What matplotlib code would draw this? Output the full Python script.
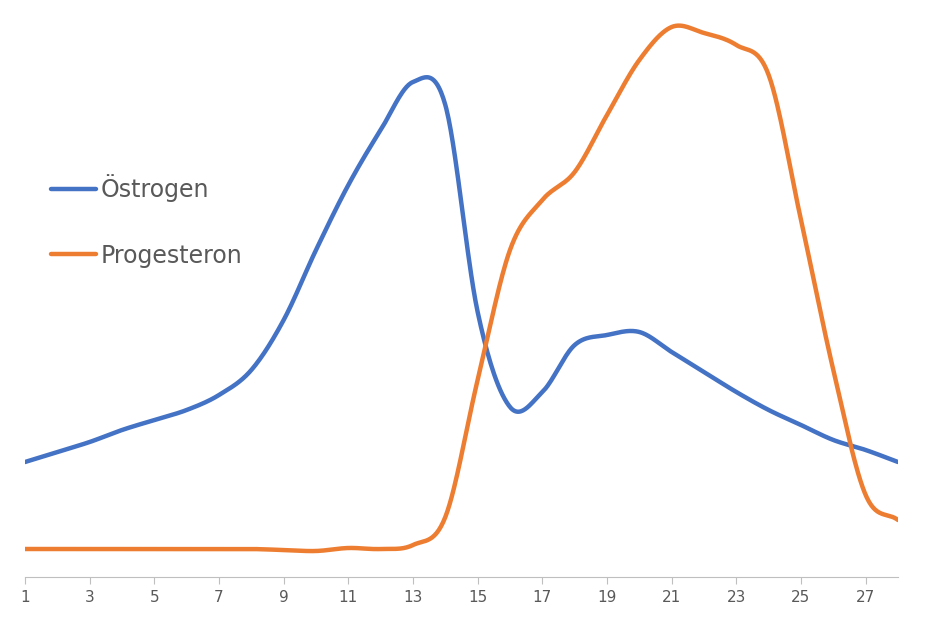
import numpy as np
import matplotlib
matplotlib.use("Agg")
import matplotlib.pyplot as plt

days = list(range(1, 29))
oestrogen = [115, 125, 135, 147, 157, 167, 182, 207, 257, 327, 392, 447, 495, 472, 265, 170, 185, 232, 242, 245, 225, 205, 185, 167, 152, 137, 127, 115]
progesteron = [28, 28, 28, 28, 28, 28, 28, 28, 27, 26, 29, 28, 32, 60, 197, 327, 377, 405, 462, 517, 550, 544, 532, 502, 357, 207, 82, 57]
xticks = list(range(1, 29, 2))

def catmull(x, y, n=30):
    x = np.asarray(x, float); y = np.asarray(y, float)
    px = np.concatenate([[2*x[0]-x[1]], x, [2*x[-1]-x[-2]]])
    py = np.concatenate([[2*y[0]-y[1]], y, [2*y[-1]-y[-2]]])
    ox, oy = [], []
    for i in range(1, len(px)-2):
        t = np.linspace(0, 1, n, endpoint=False)
        for arr, out in ((px, ox), (py, oy)):
            p0, p1, p2, p3 = arr[i-1], arr[i], arr[i+1], arr[i+2]
            out.extend(0.5*((2*p1) + (-p0+p2)*t + (2*p0-5*p1+4*p2-p3)*t**2 + (-p0+3*p1-3*p2+p3)*t**3))
    ox.append(x[-1]); oy.append(y[-1])
    return np.array(ox), np.array(oy)

fig = plt.figure(figsize=(9.35, 6.44), dpi=100)
ax = fig.add_axes([25/935, 1-577/644, (898-25)/935, (577-10)/644])
bx, by = catmull(days, oestrogen)
ox, oy = catmull(days, progesteron)
ax.plot(bx, by, color="#4472C4", lw=3.2, label="Östrogen", solid_capstyle="round")
ax.plot(ox, oy, color="#ED7D31", lw=3.2, label="Progesteron", solid_capstyle="round")
ax.set_xlim(1, 28)
ax.set_ylim(0, 567)
ax.set_xticks(xticks)
ax.set_xticklabels([str(t) for t in xticks], color="#595959", fontsize=11)
ax.set_yticks([])
for s in ["top", "right", "left"]:
    ax.spines[s].set_visible(False)
ax.spines["bottom"].set_color("#BFBFBF")
ax.tick_params(axis="x", color="#BFBFBF", length=5, pad=4)
leg = ax.legend(loc="upper left", bbox_to_anchor=(0.03, 0.71), frameon=False,
                fontsize=17, labelcolor="#595959", handlelength=1.9,
                labelspacing=1.75, handletextpad=0.2, borderpad=0, borderaxespad=0)
fig.savefig("out.png", dpi=100)
